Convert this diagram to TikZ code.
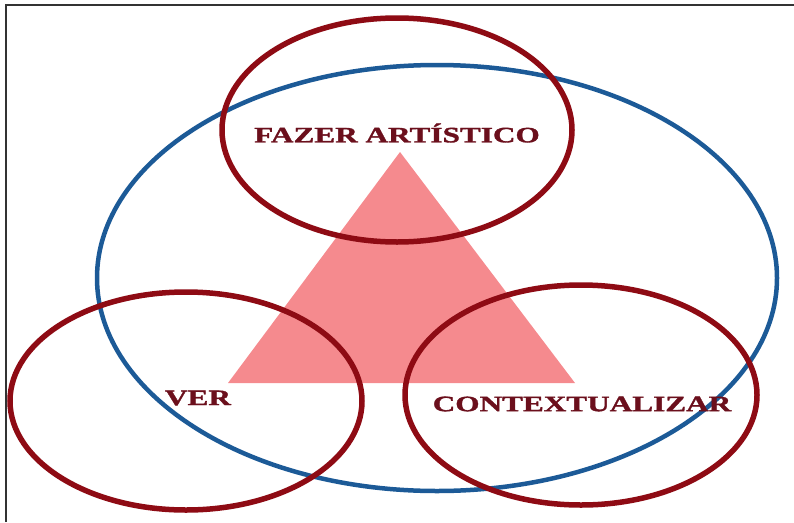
\documentclass[tikz,border=0pt]{standalone}
\usepackage{fontspec}
\usepackage{tikz}
\usepackage{xcolor}
\newfontfamily\labelfont[FakeStretch=1.42,BoldFeatures={FakeBold=1.5}]{Liberation Serif}
\definecolor{ringred}{HTML}{8E0B14}
\definecolor{ringblue}{HTML}{1C5A97}
\definecolor{trianglepink}{HTML}{F58A8E}
\definecolor{labelred}{HTML}{6B0F1C}
\tikzset{
  ring/.style={ringred,line width=5.5pt},
  lbl/.style={text=labelred,font=\labelfont\fontsize{22}{26}\selectfont\bfseries,inner sep=0pt}
}

\begin{document}
\begin{tikzpicture}[x=1pt,y=-1pt]
\useasboundingbox (0,0) rectangle (794,522);
\draw[line width=2pt,black!80] (6,522) -- (6,5) -- (794,5);
\fill[trianglepink] (400,152) -- (228,383) -- (575,383) -- cycle;
\draw[ringblue,line width=4.5pt] (437,278) ellipse [x radius=340,y radius=213];
\draw[ring] (397,130) ellipse [x radius=175,y radius=112];
\draw[ring] (186,401) ellipse [x radius=176,y radius=109];
\draw[ring] (581,395) ellipse [x radius=176,y radius=110];
\node[lbl] (fazer) at (397,133) {FAZER ARTÍSTICO};
\node[lbl] (ver) at (198,398) {VER};
\node[lbl] (context) at (582,404) {CONTEXTUALIZAR};
\end{tikzpicture}
\end{document}
